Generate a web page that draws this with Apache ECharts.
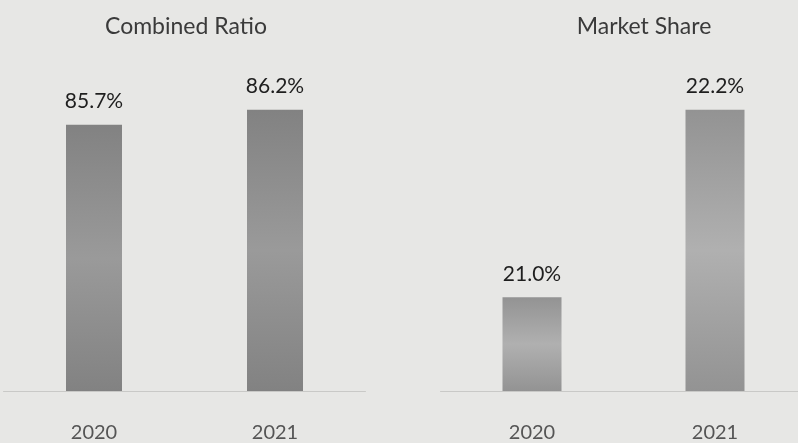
<!DOCTYPE html>
<html><head><meta charset="utf-8">
<script src="https://cdn.jsdelivr.net/npm/echarts@6/dist/echarts.min.js"></script>
<style>html,body{margin:0;padding:0;background:#e7e7e5;overflow:hidden;width:798px;height:443px;}#c{width:816px;height:443px;}</style>
</head><body><div id="c"></div>
<script>
const years = ['2020', '2021'];
const combinedRatio = [85.7, 86.2];
const marketShare = [21.0, 22.2];
const titles = ['Combined Ratio', 'Market Share'];

const chart = echarts.init(document.getElementById('c'));
const font = 'Lato';
function grad(top, bottom) {
  return new echarts.graphic.LinearGradient(0, 0, 0, 1, [
    {offset: 0, color: top}, {offset: 0.5, color: bottom}, {offset: 1, color: top}
  ]);
}
const labelCfg = {show: true, position: 'top', distance: 13, color: '#1e1e1e', fontFamily: font, fontSize: 21,
  formatter: p => p.value.toFixed(1) + '%'};
const xCommon = {
  type: 'category', data: years,
  axisLine: {lineStyle: {color: '#c9c9c7', width: 1}},
  axisTick: {show: false},
  axisLabel: {color: '#555', fontFamily: font, fontSize: 20, margin: 32}
};
chart.setOption({
  backgroundColor: '#e7e7e5',
  animation: false,
  title: [
    {text: titles[0], left: 181, top: 10, textAlign: 'center', textStyle: {color: '#3a3a3a', fontFamily: font, fontSize: 23, fontWeight: 'normal'}},
    {text: titles[1], left: 639, top: 10, textAlign: 'center', textStyle: {color: '#3a3a3a', fontFamily: font, fontSize: 23, fontWeight: 'normal'}}
  ],
  grid: [
    {left: 3.5, width: 362, top: 50, bottom: 51},
    {left: 440.5, width: 366, top: 50, bottom: 51}
  ],
  xAxis: [
    Object.assign({gridIndex: 0}, xCommon),
    Object.assign({gridIndex: 1}, xCommon)
  ],
  yAxis: [
    {gridIndex: 0, type: 'value', min: 76.8, max: 88.2, show: false},
    {gridIndex: 1, type: 'value', min: 20.4, max: 22.583, show: false}
  ],
  series: [
    {type: 'bar', xAxisIndex: 0, yAxisIndex: 0, data: combinedRatio, barWidth: 56,
      itemStyle: {color: grad('#828282', '#9a9a9a')}, label: labelCfg},
    {type: 'bar', xAxisIndex: 1, yAxisIndex: 1, data: marketShare, barWidth: 59,
      itemStyle: {color: grad('#939393', '#b0b0b0')}, label: labelCfg}
  ]
});
</script></body></html>
